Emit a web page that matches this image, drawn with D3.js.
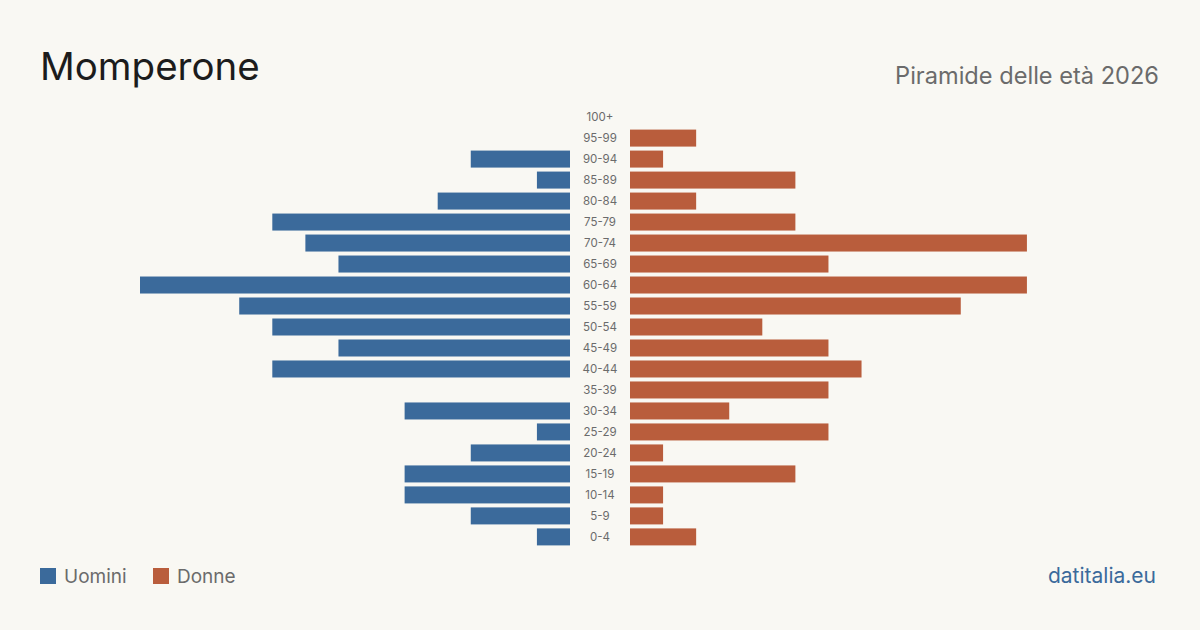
<!DOCTYPE html>
<html>
<head>
<meta charset="utf-8">
<script src="https://cdn.jsdelivr.net/npm/d3@7"></script>
<style>
  html, body { margin: 0; padding: 0; background: #f9f8f3; }
  svg { display: block; font-family: Inter, "Noto Sans", sans-serif; }
</style>
</head>
<body>
<svg id="chart" width="1200" height="630"></svg>
<script>
const ageGroups = ["100+", "95-99", "90-94", "85-89", "80-84", "75-79", "70-74", "65-69",
  "60-64", "55-59", "50-54", "45-49", "40-44", "35-39", "30-34", "25-29",
  "20-24", "15-19", "10-14", "5-9", "0-4"];
const uomini = [0, 0, 3, 1, 4, 9, 8, 7, 13, 10, 9, 7, 9, 0, 5, 1, 3, 5, 5, 3, 1];
const donne = [0, 2, 1, 5, 2, 5, 12, 6, 12, 10, 4, 6, 7, 6, 3, 6, 1, 5, 1, 1, 2];

const blue = "#3b6a9b";
const red = "#b95d3c";

const svg = d3.select("#chart");
svg.append("rect").attr("width", 1200).attr("height", 630).attr("fill", "#f9f8f3");

// titolo
svg.append("text")
  .attr("x", 40).attr("y", 80)
  .attr("font-size", 38.5)
  .attr("fill", "#1c1c1c")
  .text("Momperone");
svg.append("text")
  .attr("x", 1159).attr("y", 84)
  .attr("text-anchor", "end")
  .attr("font-size", 23.6)
  .attr("fill", "#6b6b6b")
  .text("Piramide delle età 2026");

const y = d3.scaleBand()
  .domain(ageGroups)
  .range([106.5, 547.5])
  .paddingInner(0.19)
  .paddingOuter(0.1);

const maxVal = d3.max(uomini.concat(donne));
const xL = d3.scaleLinear().domain([0, maxVal]).range([570, 140]);
const xR = d3.scaleLinear().domain([0, maxVal]).range([630, 1060]);

svg.append("g").selectAll("rect")
  .data(ageGroups)
  .join("rect")
  .attr("x", (d, i) => xL(uomini[i]))
  .attr("y", d => y(d))
  .attr("width", (d, i) => xL(0) - xL(uomini[i]))
  .attr("height", y.bandwidth())
  .attr("fill", blue);

svg.append("g").selectAll("rect")
  .data(ageGroups)
  .join("rect")
  .attr("x", xR(0))
  .attr("y", d => y(d))
  .attr("width", (d, i) => xR(donne[i]) - xR(0))
  .attr("height", y.bandwidth())
  .attr("fill", red);

svg.append("g").selectAll("text")
  .data(ageGroups)
  .join("text")
  .attr("x", 600)
  .attr("y", d => y(d) + y.bandwidth() / 2)
  .attr("dy", "0.35em")
  .attr("text-anchor", "middle")
  .attr("font-size", 11.5)
  .attr("fill", "#6b6b6b")
  .text(d => d);

// legenda
const legend = [
  { label: "Uomini", color: blue, x: 40 },
  { label: "Donne", color: red, x: 153 }
];
const lg = svg.append("g").selectAll("g").data(legend).join("g")
  .attr("transform", d => `translate(${d.x},568)`);
lg.append("rect").attr("width", 16).attr("height", 16).attr("fill", d => d.color);
lg.append("text")
  .attr("x", 24).attr("y", 8).attr("dy", "0.36em")
  .attr("font-size", 19)
  .attr("fill", "#6b6b6b")
  .text(d => d.label);

svg.append("text")
  .attr("x", 1156).attr("y", 583)
  .attr("text-anchor", "end")
  .attr("font-size", 21)
  .attr("fill", blue)
  .text("datitalia.eu");
</script>
</body>
</html>
